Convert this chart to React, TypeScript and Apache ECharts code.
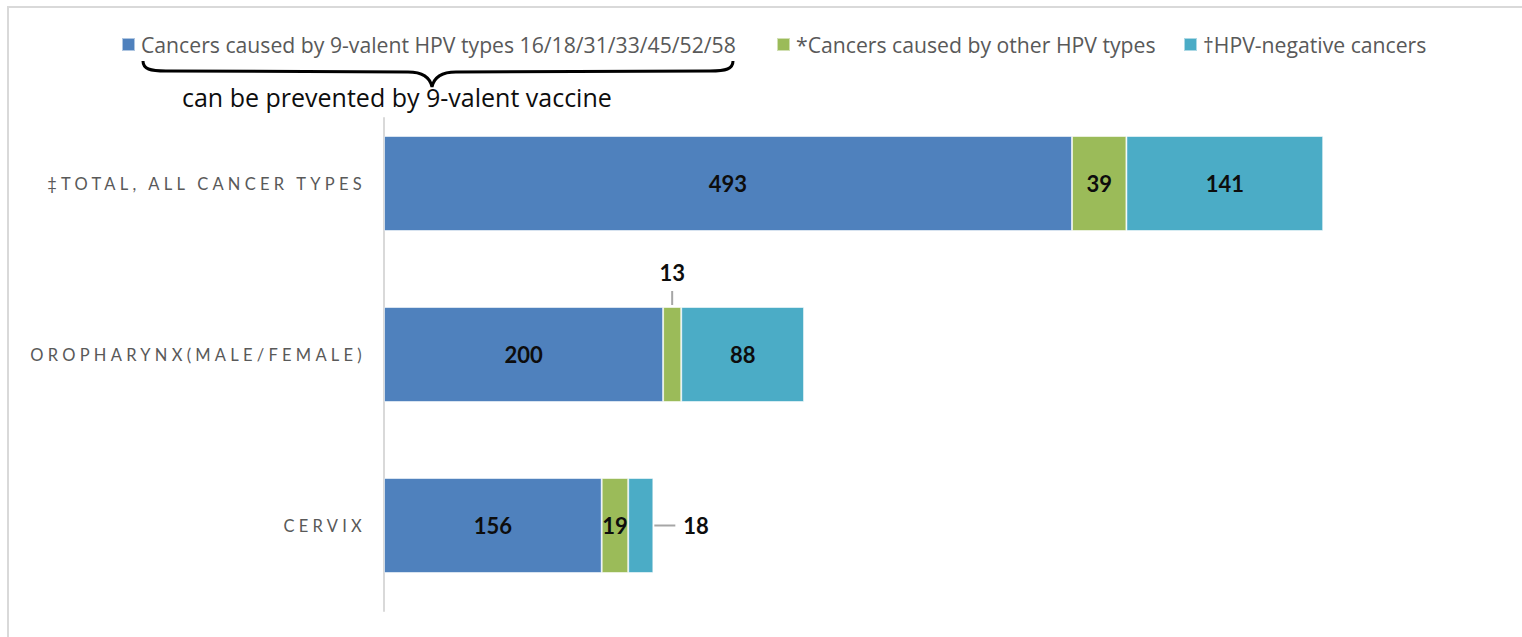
import React, { useEffect, useRef } from "react";
import * as echarts from "echarts";

const categories = ["‡TOTAL, ALL CANCER TYPES", "OROPHARYNX(MALE/FEMALE)", "CERVIX"];
const seriesNames = [
  "Cancers caused by 9-valent HPV types 16/18/31/33/45/52/58",
  "*Cancers caused by other HPV types",
  "†HPV-negative cancers",
];
const vaccineTypes = [493, 200, 156];
const otherTypes = [39, 13, 19];
const hpvNegative = [141, 88, 18];
const colors = ["#4F81BD", "#9BBB59", "#4BACC6"];
const braceNote = "can be prevented by 9-valent vaccine";

// leader lines for the two labels placed outside their segments: [x value, category index, direction]
const leaders = [
  [vaccineTypes[1] + otherTypes[1] / 2, 1, 0],
  [vaccineTypes[2] + otherTypes[2] + hpvNegative[2], 2, 1],
];

const bracePath =
  "M143,61 C143,69 150,71 166,71 L408,72 C423,72 430,77 432,87 C434,77 441,72 456,72 L710,71 C726,71 733,69 733,61";
echarts.graphic.registerShape("brace", echarts.graphic.extendPath(bracePath, {}));

const FONT = "Lato, 'Open Sans', sans-serif";
const LEGEND_FONT = "'Open Sans', sans-serif";
const LETTER_SPACING = "4.25";
const BAR_W = 95;

export default function App() {
  const ref = useRef<HTMLDivElement>(null);
  useEffect(() => {
    if (!ref.current) return;
    const chart = echarts.init(ref.current, null, { renderer: "svg" });
    const barLabel = {
      show: true,
      position: "inside",
      color: "#0d0d0d",
      fontWeight: "bold",
      fontSize: 22,
      fontFamily: FONT,
    };
    const legendBase = {
      top: 34,
      padding: 0,
      itemWidth: 13,
      itemHeight: 13,
      icon: "rect",
      textStyle: { color: "#595959", fontSize: 21.2, fontFamily: LEGEND_FONT, padding: [0, 0, 0, 1] },
    };
    const segStyle = (c: string) => ({ color: c, borderColor: "rgba(255,255,255,0.55)", borderWidth: 1 });
    chart.setOption({
      animation: false,
      backgroundColor: "#fff",
      legend: [
        { ...legendBase, left: 121, data: [seriesNames[0]] },
        { ...legendBase, left: 776, data: [seriesNames[1]] },
        { ...legendBase, left: 1183, data: [seriesNames[2]] },
      ],
      grid: [
        { left: 384, right: 21.6, top: 98, bottom: 26, containLabel: false },
        { left: 384, right: 21.6, top: 118, bottom: 26, containLabel: false },
      ],
      xAxis: [
        { type: "value", min: 0, max: 800, show: false, gridIndex: 0 },
        { type: "value", min: 0, max: 800, show: false, gridIndex: 1 },
      ],
      yAxis: [
        {
          type: "category",
          inverse: true,
          gridIndex: 0,
          data: categories,
          axisTick: { show: false },
          axisLine: { show: false },
          axisLabel: { color: "#595959", fontSize: 16.5, fontFamily: FONT, margin: 18 },
        },
        {
          type: "category",
          inverse: true,
          gridIndex: 1,
          data: categories,
          axisTick: { show: false },
          axisLabel: { show: false },
          axisLine: { lineStyle: { color: "#d9d9d9", width: 2 } },
        },
      ],
      series: [
        {
          name: seriesNames[0],
          type: "bar",
          stack: "total",
          barWidth: BAR_W,
          itemStyle: segStyle(colors[0]),
          label: barLabel,
          data: vaccineTypes,
        },
        {
          name: seriesNames[1],
          type: "bar",
          stack: "total",
          barWidth: BAR_W,
          itemStyle: segStyle(colors[1]),
          label: barLabel,
          data: otherTypes.map((v, i) =>
            i === 1 ? { value: v, label: { position: "top", distance: 24 } } : v
          ),
        },
        {
          name: seriesNames[2],
          type: "bar",
          stack: "total",
          barWidth: BAR_W,
          itemStyle: segStyle(colors[2]),
          label: barLabel,
          data: hpvNegative.map((v, i) =>
            i === 2 ? { value: v, label: { position: "right", distance: 30 } } : v
          ),
        },
        {
          type: "custom",
          silent: true,
          data: leaders,
          renderItem: (params: any, api: any) => {
            const p = api.coord([api.value(0), api.value(1)]);
            const dir = api.value(2);
            const h = BAR_W / 2;
            const shape =
              dir === 0
                ? { x1: p[0], y1: p[1] - h - 2, x2: p[0], y2: p[1] - h - 16 }
                : { x1: p[0] + 1, y1: p[1], x2: p[0] + 22, y2: p[1] };
            return {
              type: "line",
              shape,
              style: { stroke: "#a6a6a6", lineWidth: 2 },
            };
          },
        },
      ],
      graphic: [
        {
          type: "rect",
          silent: true,
          shape: { x: 8, y: 7, width: 1700, height: 800 },
          style: { fill: "none", stroke: "#d9d9d9", lineWidth: 2 },
        },
        {
          type: "brace",
          silent: true,
          x: 0,
          y: 0,
          style: { fill: "none", stroke: "#000", lineWidth: 3 },
        },
        {
          type: "text",
          silent: true,
          x: 182,
          y: 97,
          style: {
            text: braceNote,
            fill: "#0d0d0d",
            fontSize: 25,
            fontFamily: LEGEND_FONT,
            verticalAlign: "middle",
            align: "left",
          },
        },
      ],
    });
    const applySpacing = () => {
      if (!ref.current) return;
      ref.current.querySelectorAll("text").forEach((t) => {
        if (categories.includes(t.textContent || "")) t.setAttribute("letter-spacing", LETTER_SPACING);
      });
    };
    applySpacing();
    chart.on("finished", applySpacing);
    return () => chart.dispose();
  }, []);
  return (
    <div
      ref={ref}
      style={{ position: "absolute", left: 0, top: 0, width: 1522, height: 637, background: "#fff" }}
    />
  );
}
